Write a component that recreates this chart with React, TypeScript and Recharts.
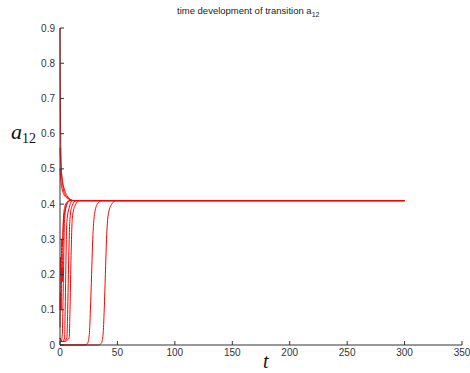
import { LineChart, Line, XAxis, YAxis, Label } from "recharts";

// each trajectory: time points and a12 values
const tSpike = [0, 0.3, 0.8, 1.5, 2.5, 4, 6, 9, 13, 300];
const aSpike = [0.9, 0.7, 0.55, 0.48, 0.45, 0.43, 0.42, 0.412, 0.41, 0.41];

const tDecayA = [0, 1, 2, 4, 7, 11, 300];
const aDecayA = [0.56, 0.5, 0.47, 0.44, 0.42, 0.41, 0.41];

const tDecayB = [0, 1, 2, 3, 5, 8, 12, 300];
const aDecayB = [0.5, 0.46, 0.44, 0.43, 0.42, 0.415, 0.41, 0.41];

const tWiggleA = [0, 0.5, 1, 1.5, 2, 3, 4, 6, 9, 300];
const aWiggleA = [0.1, 0.25, 0.2, 0.3, 0.28, 0.36, 0.39, 0.405, 0.41, 0.41];

const tWiggleB = [0, 0.5, 1, 1.5, 2, 2.5, 3, 5, 8, 300];
const aWiggleB = [0.05, 0.15, 0.1, 0.22, 0.18, 0.3, 0.35, 0.39, 0.41, 0.41];

const tRiseA = [0, 1, 2, 2.5, 3, 3.5, 4, 6, 9, 300];
const aRiseA = [0.02, 0.01, 0.03, 0.1, 0.2, 0.3, 0.36, 0.4, 0.41, 0.41];

const tRiseB = [0, 2, 4, 4.5, 5, 5.5, 6, 8, 11, 300];
const aRiseB = [0.02, 0.01, 0.02, 0.1, 0.2, 0.3, 0.35, 0.39, 0.41, 0.41];

const tRiseC = [0, 3, 6, 6.7, 7.3, 8, 8.7, 10.5, 14, 300];
const aRiseC = [0.01, 0.01, 0.02, 0.1, 0.2, 0.3, 0.36, 0.395, 0.41, 0.41];

const tRiseD = [0, 4, 8, 8.7, 9.3, 10, 10.7, 13, 17, 300];
const aRiseD = [0.01, 0.01, 0.02, 0.1, 0.2, 0.3, 0.36, 0.395, 0.41, 0.41];

const tLateA = [0, 21, 24, 25.5, 26.5, 27.5, 28.5, 30, 32.5, 36.5, 300];
const aLateA = [0, 0, 0.005, 0.03, 0.1, 0.2, 0.3, 0.37, 0.4, 0.41, 0.41];

const tLateB = [0, 33, 36, 37.5, 38.5, 39.5, 40.5, 42, 45, 49, 300];
const aLateB = [0, 0, 0.005, 0.03, 0.1, 0.2, 0.3, 0.37, 0.4, 0.41, 0.41];

const xTicks = [0, 50, 100, 150, 200, 250, 300, 350];
const yTicks = [0, 0.1, 0.2, 0.3, 0.4, 0.5, 0.6, 0.7, 0.8, 0.9];

const runs: [number[], number[]][] = [
  [tSpike, aSpike],
  [tDecayA, aDecayA],
  [tDecayB, aDecayB],
  [tWiggleA, aWiggleA],
  [tWiggleB, aWiggleB],
  [tRiseA, aRiseA],
  [tRiseB, aRiseB],
  [tRiseC, aRiseC],
  [tRiseD, aRiseD],
  [tLateA, aLateA],
  [tLateB, aLateB],
];

const axisColor = "#333";
const tickStyle = { fontSize: 10, fill: "#333", fontFamily: "Liberation Sans, Arial, sans-serif" };

export default function App() {
  return (
    <div style={{ position: "absolute", left: 0, top: 0, width: 470, height: 373, background: "#fff" }}>
      <div
        style={{
          position: "absolute", left: 177, top: 5, fontSize: 9.5, color: "#222",
          fontFamily: "Liberation Sans, Arial, sans-serif", whiteSpace: "nowrap",
        }}
      >
        time development of transition a<sub style={{ fontSize: 7 }}>12</sub>
      </div>
      <LineChart width={470} height={373} margin={{ top: 28, right: 8, left: 0, bottom: 0 }}>
        <XAxis
          type="number" dataKey="t" domain={[0, 350]} ticks={xTicks} height={28}
          allowDuplicatedCategory={false}
          tickSize={-4} tickMargin={8} tick={tickStyle}
          axisLine={{ stroke: axisColor }} tickLine={{ stroke: axisColor }}
        >
          <Label
            content={() => (
              <text x={263} y={368} fontFamily="Liberation Serif, serif" fontStyle="italic" fontSize={20} fill="#111">
                t
              </text>
            )}
          />
        </XAxis>
        <YAxis
          type="number" domain={[0, 0.9]} ticks={yTicks} width={60}
          tickSize={-4} tickMargin={9} tick={tickStyle}
          axisLine={{ stroke: axisColor }} tickLine={{ stroke: axisColor }}
        >
          <Label
            content={() => (
              <text x={11} y={139} fontFamily="Liberation Serif, serif" fill="#111">
                <tspan fontStyle="italic" fontSize={22}>a</tspan>
                <tspan fontSize={14} dy={4}>12</tspan>
              </text>
            )}
          />
        </YAxis>
        {runs.map(([ts, as], i) => (
          <Line
            key={i}
            data={ts.map((t, j) => ({ t, a: as[j] }))}
            dataKey="a" type="monotone" stroke="#f00" strokeWidth={1}
            dot={false} isAnimationActive={false}
          />
        ))}
      </LineChart>
    </div>
  );
}
